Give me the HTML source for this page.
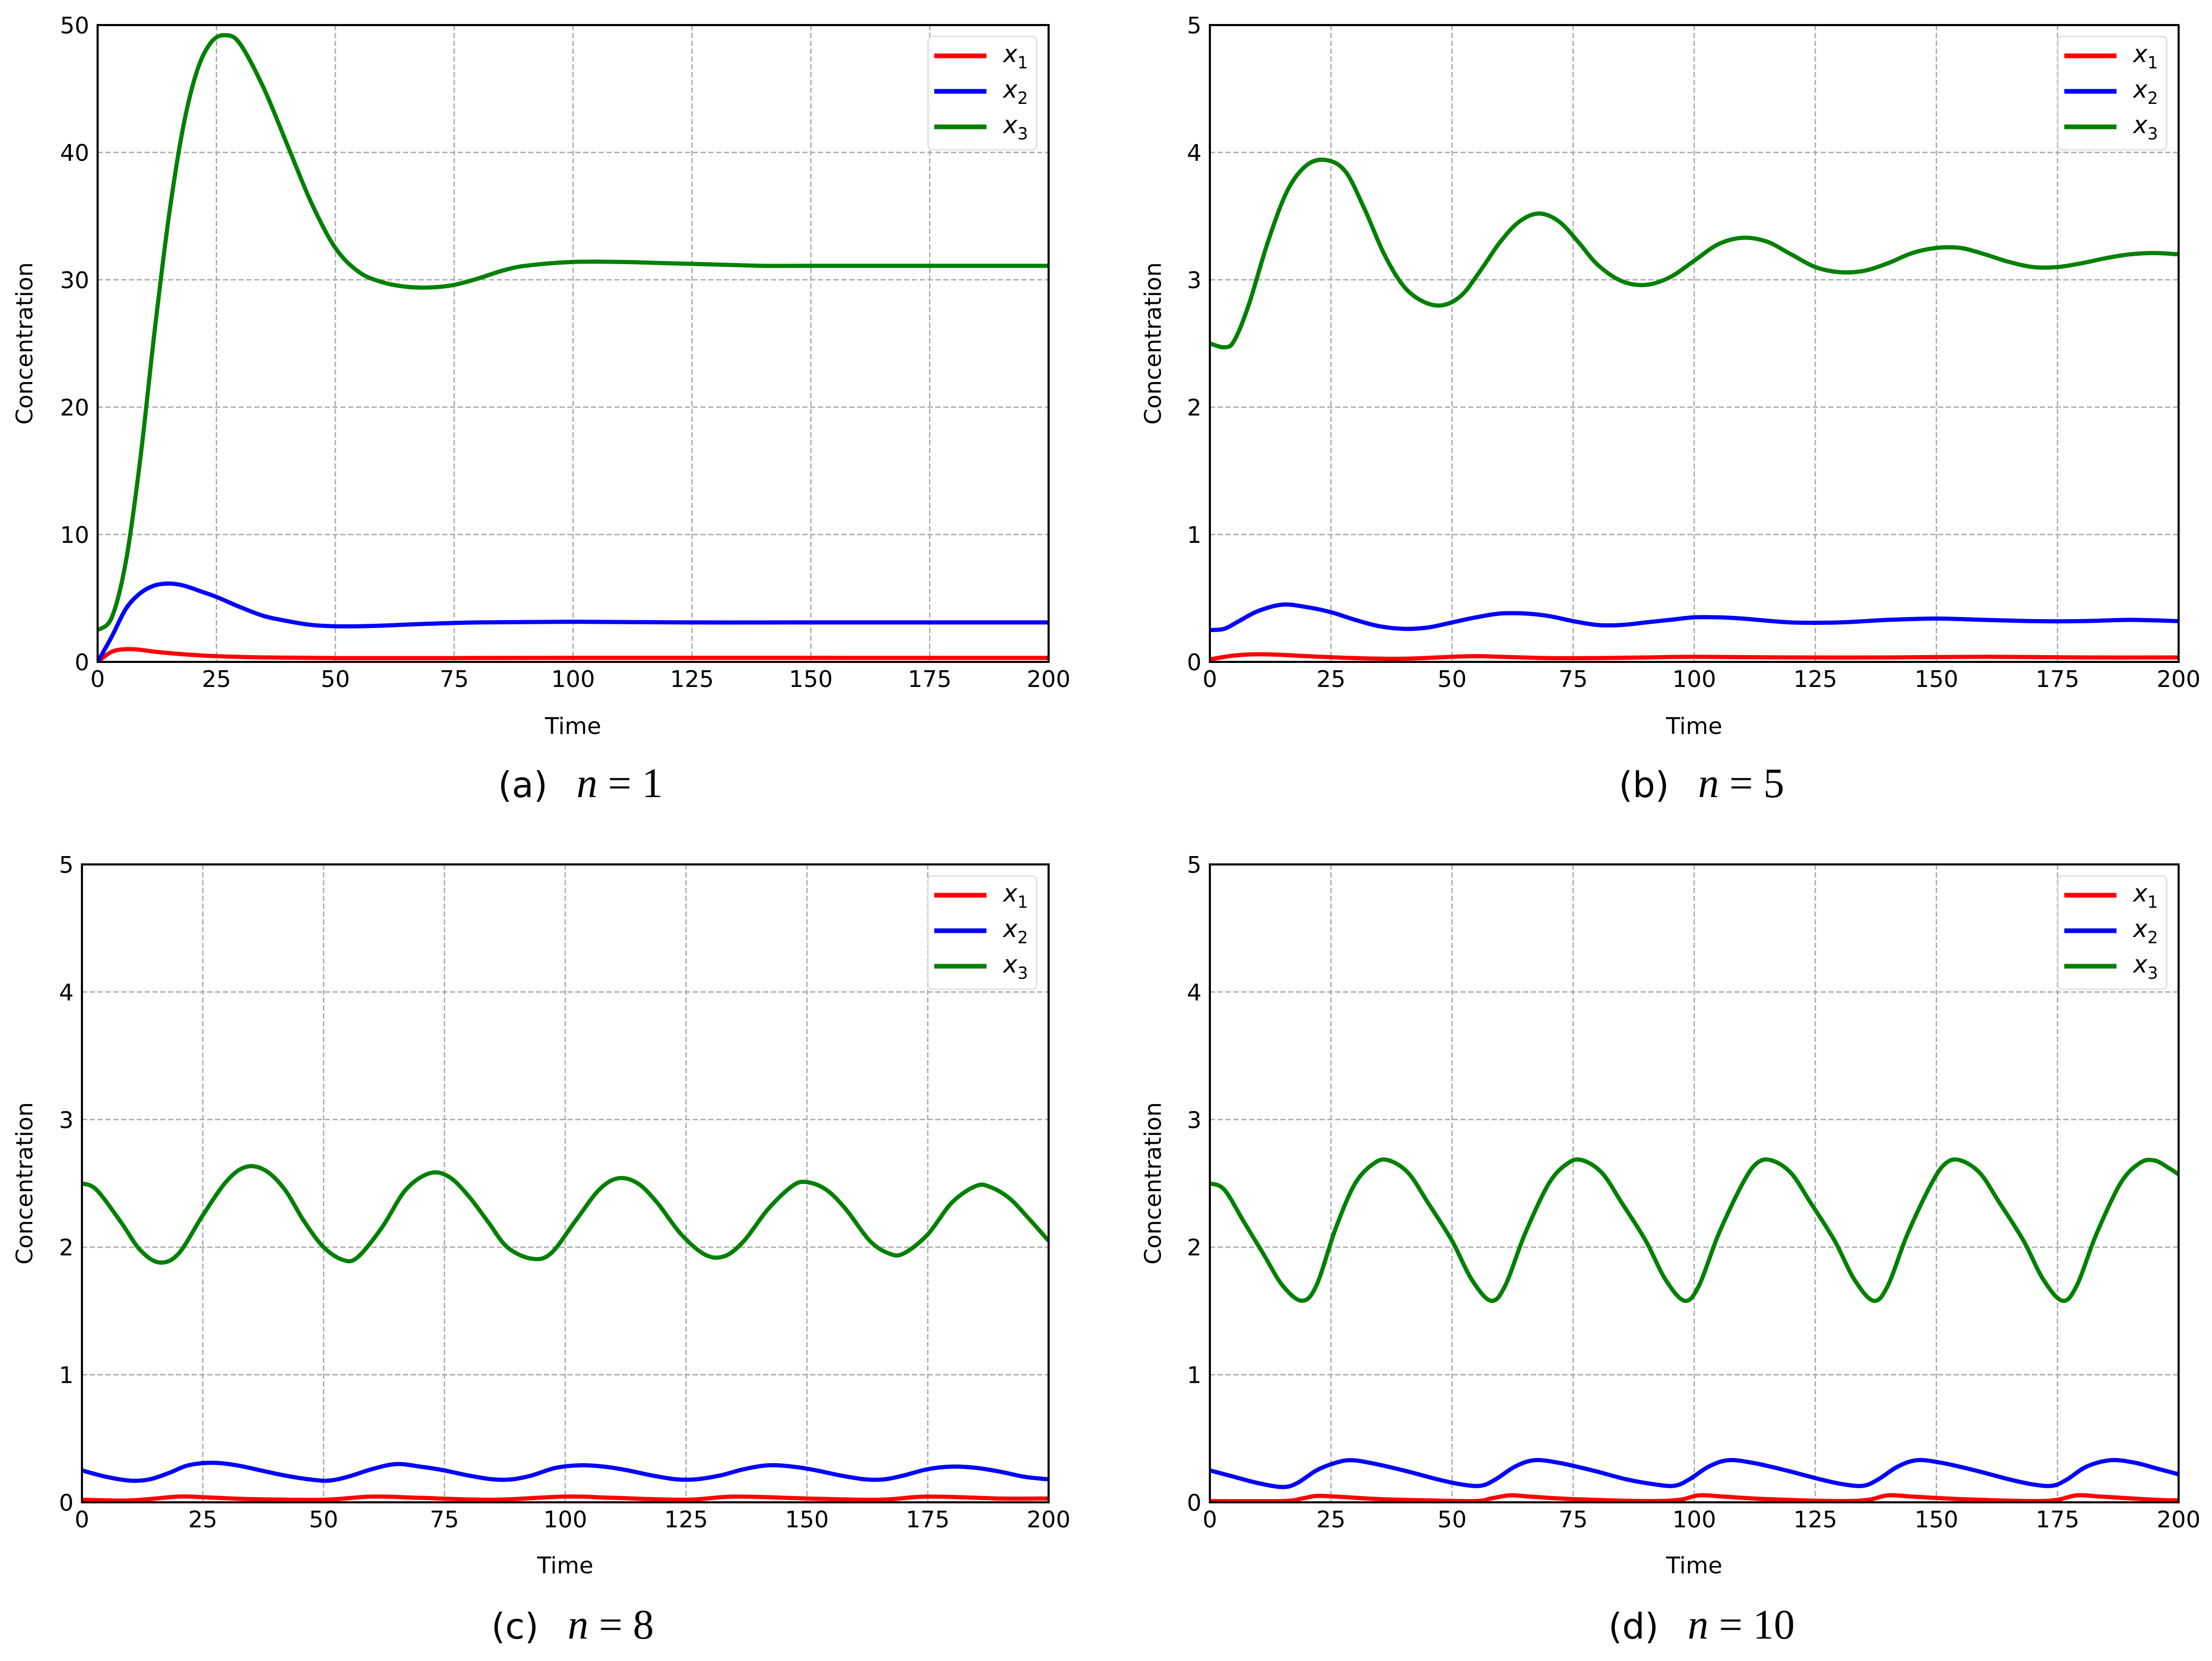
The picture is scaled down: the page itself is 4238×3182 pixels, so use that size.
<!DOCTYPE html>
<html><head><meta charset="utf-8">
<style>
html,body{margin:0;padding:0;background:#fff;}
svg{display:block;}
text{font-family:"DejaVu Sans","Liberation Sans",sans-serif;fill:#000;}
</style></head>
<body>
<svg id="fig" width="4238" height="3182" viewBox="0 0 4238 3182" xmlns="http://www.w3.org/2000/svg"></svg>
<script>
// ---- data ----
const xTicks = [0,25,50,75,100,125,150,175,200];
const yTicksA = [0,10,20,30,40,50];
const yTicksB = [0,1,2,3,4,5];

const aT3 = [0,3,6,9,12,15,18,21,24,27,30,35,40,45,50,55,60,65,70,75,80,85,90,100,110,120,130,140,150,175,200];
const aV3 = [2.5,3.5,8,16,26,35,42,46.5,48.7,49.2,48.5,45,40.5,36,32.5,30.6,29.8,29.45,29.4,29.6,30.1,30.7,31.1,31.4,31.4,31.3,31.2,31.1,31.1,31.1,31.1];
const aT2 = [0,3,6,9,12,15,18,22,25,30,35,40,45,50,55,60,70,80,100,125,150,200];
const aV2 = [0,2,4.2,5.4,6,6.15,6,5.5,5.1,4.3,3.6,3.2,2.9,2.8,2.8,2.85,3,3.1,3.15,3.1,3.1,3.1];
const aT1 = [0,3,6,9,12,18,25,35,50,75,100,200];
const aV1 = [0,0.8,1.0,0.95,0.8,0.6,0.45,0.35,0.3,0.3,0.32,0.31];

const bT3 = [0,3,5,8,12,16,20,24,28,32,36,40,44,48,52,56,60,64,68,72,76,80,85,90,95,100,105,110,115,120,125,130,135,140,145,150,155,160,165,170,175,180,185,190,195,200];
const bV3 = [2.5,2.47,2.52,2.8,3.3,3.7,3.9,3.94,3.85,3.55,3.2,2.95,2.83,2.8,2.88,3.08,3.3,3.46,3.52,3.46,3.3,3.12,2.99,2.96,3.02,3.15,3.28,3.33,3.3,3.2,3.1,3.06,3.07,3.13,3.21,3.25,3.25,3.2,3.14,3.1,3.1,3.13,3.17,3.2,3.21,3.2];
const bT2 = [0,3,6,10,15,20,25,30,35,40,45,50,55,60,65,70,75,80,85,90,95,100,105,110,120,130,140,150,160,170,180,190,200];
const bV2 = [0.25,0.26,0.32,0.4,0.45,0.43,0.39,0.33,0.28,0.26,0.27,0.31,0.35,0.38,0.38,0.36,0.32,0.29,0.29,0.31,0.33,0.35,0.35,0.34,0.31,0.31,0.33,0.34,0.33,0.32,0.32,0.33,0.32];
const bT1 = [0,5,10,15,20,30,40,50,55,60,70,80,90,100,120,140,160,180,200];
const bV1 = [0.02,0.05,0.06,0.055,0.045,0.03,0.025,0.04,0.045,0.04,0.03,0.03,0.035,0.04,0.035,0.035,0.04,0.035,0.035];

const cT3 = [0,3,8,12,16,20,25,30,34,38,42,46,50,54,57,62,67,72,76,80,84,88,93,97,102,107,111,115,119,124,129,133,137,142,147,150,154,158,163,167,170,175,180,185,188,192,196,200];
const cV3 = [2.5,2.45,2.2,1.98,1.88,1.95,2.25,2.52,2.63,2.6,2.45,2.2,2.0,1.9,1.92,2.15,2.45,2.58,2.55,2.4,2.2,2.0,1.91,1.95,2.2,2.45,2.54,2.5,2.35,2.1,1.94,1.93,2.05,2.3,2.48,2.51,2.45,2.3,2.05,1.95,1.95,2.1,2.35,2.48,2.47,2.38,2.22,2.05];
const cT2 = [0,5,10,14,18,22,27,32,37,42,47,51,55,60,65,70,75,80,85,89,93,98,103,108,113,118,123,127,132,137,142,147,152,157,162,166,170,175,180,185,190,195,200];
const cV2 = [0.25,0.2,0.17,0.18,0.23,0.29,0.31,0.29,0.25,0.21,0.18,0.17,0.2,0.26,0.3,0.28,0.25,0.21,0.18,0.18,0.21,0.27,0.29,0.28,0.25,0.21,0.18,0.18,0.21,0.26,0.29,0.28,0.25,0.21,0.18,0.18,0.21,0.26,0.28,0.27,0.24,0.2,0.18];
const cT1 = [0,10,20,25,35,50,60,70,85,100,110,125,135,150,165,175,190,200];
const cV1 = [0.02,0.015,0.045,0.04,0.025,0.02,0.045,0.035,0.02,0.045,0.035,0.02,0.045,0.03,0.02,0.045,0.03,0.03];

const dT3 = [0,3,7,11,15,19,22,26,30,34,37,41,45,50,54,58,61,65,70,74,77,81,85,90,94,98,101,105,110,113,116,120,124,129,133,137,140,144,149,152,155,159,163,168,172,176,179,183,188,192,195,198,200];
const dV3 = [2.5,2.45,2.2,1.95,1.7,1.58,1.7,2.15,2.5,2.66,2.68,2.58,2.35,2.05,1.75,1.58,1.7,2.1,2.5,2.66,2.68,2.58,2.35,2.05,1.75,1.58,1.7,2.1,2.5,2.66,2.68,2.58,2.35,2.05,1.75,1.58,1.7,2.1,2.5,2.66,2.68,2.58,2.35,2.05,1.75,1.58,1.7,2.1,2.5,2.66,2.68,2.62,2.57];
const dT2 = [0,5,10,15,18,22,26,29,33,40,47,52,56,59,63,67,72,79,86,92,96,99,103,107,112,119,126,131,135,138,142,146,151,158,165,170,174,177,181,186,191,196,200];
const dV2 = [0.25,0.2,0.15,0.12,0.15,0.25,0.31,0.33,0.31,0.25,0.18,0.14,0.13,0.18,0.28,0.33,0.31,0.25,0.18,0.14,0.13,0.18,0.28,0.33,0.31,0.25,0.18,0.14,0.13,0.18,0.28,0.33,0.31,0.25,0.18,0.14,0.13,0.18,0.28,0.33,0.31,0.26,0.22];
const dT1 = [0,15,19,22,26,35,45,55,58,62,66,75,90,97,101,106,115,130,136,140,145,155,170,175,179,184,195,200];
const dV1 = [0.01,0.01,0.03,0.05,0.045,0.025,0.015,0.01,0.03,0.055,0.045,0.025,0.01,0.02,0.055,0.045,0.025,0.01,0.02,0.055,0.045,0.025,0.01,0.02,0.055,0.045,0.02,0.015];

const NS = "http://www.w3.org/2000/svg";
const svg = document.getElementById('fig');
function mk(tag, attrs, parent){
  const e = document.createElementNS(NS, tag);
  for (const k in attrs) e.setAttribute(k, attrs[k]);
  (parent||svg).appendChild(e);
  return e;
}
function smoothPath(pts){
  let d = `M${pts[0][0].toFixed(1)},${pts[0][1].toFixed(1)}`;
  for (let i=0;i<pts.length-1;i++){
    const p0 = pts[Math.max(0,i-1)], p1 = pts[i], p2 = pts[i+1], p3 = pts[Math.min(pts.length-1,i+2)];
    const c1x = p1[0]+(p2[0]-p0[0])/6, c1y = p1[1]+(p2[1]-p0[1])/6;
    const c2x = p2[0]-(p3[0]-p1[0])/6, c2y = p2[1]-(p3[1]-p1[1])/6;
    d += ` C${c1x.toFixed(1)},${c1y.toFixed(1)} ${c2x.toFixed(1)},${c2y.toFixed(1)} ${p2[0].toFixed(1)},${p2[1].toFixed(1)}`;
  }
  return d;
}

const panels = [
  {id:'a', L:187, R:2009, T:48, B:1268, ymax:50, yt:yTicksA, ylx:46, cap:'(a)', n:'1', timeY:1390, capY:1503,
   s:[[aT1,aV1],[aT2,aV2],[aT3,aV3]]},
  {id:'b', L:2318, R:4174, T:48, B:1268, ymax:5, yt:yTicksB, ylx:2208, cap:'(b)', n:'5', timeY:1390, capY:1503,
   s:[[bT1,bV1],[bT2,bV2],[bT3,bV3]]},
  {id:'c', L:157, R:2009, T:1656, B:2878, ymax:5, yt:yTicksB, ylx:46, cap:'(c)', n:'8', timeY:2998, capY:3115,
   s:[[cT1,cV1],[cT2,cV2],[cT3,cV3]]},
  {id:'d', L:2318, R:4174, T:1656, B:2878, ymax:5, yt:yTicksB, ylx:2208, cap:'(d)', n:'10', timeY:2998, capY:3115,
   s:[[dT1,dV1],[dT2,dV2],[dT3,dV3]]}
];
const colors = ['#ff0000','#0000ff','#008000'];
const names = ['x1','x2','x3'];

panels.forEach(p=>{
  const g = mk('g',{});
  
  
  const xs = t => p.L + (t/200)*(p.R-p.L);
  const ys = v => p.B - (v/p.ymax)*(p.B-p.T);
  xTicks.forEach(t=>{
    const l = mk('line',{x1:xs(t),x2:xs(t),y1:p.T,y2:p.B,stroke:'#a8a8a8','stroke-width':2.5,'stroke-dasharray':'10,5'},g);
    
    
    const tx = mk('text',{x:xs(t),y:p.B+48,'font-size':44,'text-anchor':'middle'},g);
    tx.textContent = t;
    
    
  });
  p.yt.forEach(v=>{
    const l = mk('line',{x1:p.L,x2:p.R,y1:ys(v),y2:ys(v),stroke:'#a8a8a8','stroke-width':2.5,'stroke-dasharray':'10,5'},g);
    
    
    const tx = mk('text',{x:p.L-16,y:ys(v)+16,'font-size':44,'text-anchor':'end'},g);
    tx.textContent = v;
    
    
  });
  const clipId = 'clip'+p.id;
  const cp = mk('clipPath',{id:clipId},g);
  mk('rect',{x:p.L,y:p.T-4,width:p.R-p.L,height:p.B-p.T+4},cp);
  p.s.forEach((sr,i)=>{
    const pts = sr[0].map((t,k)=>[xs(t), ys(sr[1][k])]);
    const path = mk('path',{d:smoothPath(pts),fill:'none',stroke:colors[i],'stroke-width':8,'stroke-linejoin':'round','clip-path':`url(#${clipId})`},g);
    
    
  });
  const fr = mk('rect',{x:p.L,y:p.T,width:p.R-p.L,height:p.B-p.T,fill:'none',stroke:'#000','stroke-width':4},g);
  
  
  const xl = mk('text',{x:(p.L+p.R)/2,y:p.timeY+16,'font-size':44,'text-anchor':'middle'},g);
  xl.textContent = 'Time';
  
  
  const yl = mk('text',{x:0,y:0,'font-size':44,'text-anchor':'middle',transform:`translate(${p.ylx+16},${(p.T+p.B)/2}) rotate(-90)`},g);
  yl.textContent = 'Concentration';
  
  
  const lg = mk('g',{},g);
  
  
  const lx = p.R-231, ly = p.T+22;
  mk('rect',{x:lx,y:ly,width:208,height:217,rx:8,fill:'#fff','fill-opacity':0.85,stroke:'#dddddd','stroke-width':2.5},lg);
  [0,1,2].forEach(i=>{
    const yy = ly+37+i*68;
    const ll = mk('line',{x1:lx+12,x2:lx+112,y1:yy,y2:yy,stroke:colors[i],'stroke-width':9},lg);
    
    
    const tt = mk('text',{x:lx+144,y:yy+12,'font-size':46,'font-style':'italic'},lg);
    tt.textContent = 'x';
    const sub = mk('tspan',{dy:12,'font-size':32,'font-style':'normal'},tt);
    sub.textContent = String(i+1);
    
    
  });
  const cap = mk('text',{x:(p.L+p.R)/2+14,y:p.capY+24,'font-size':68,'text-anchor':'middle'},g);
  
  
  const t1 = mk('tspan',{},cap); t1.textContent = p.cap+'\u2002 ';
  const t2 = mk('tspan',{'font-family':'Liberation Serif, DejaVu Serif, serif','font-style':'italic','font-size':80},cap); t2.textContent = 'n';
  const t3 = mk('tspan',{'font-family':'Liberation Serif, DejaVu Serif, serif','font-size':80},cap); t3.textContent = ' = '+p.n;
});
</script>
</body></html>
